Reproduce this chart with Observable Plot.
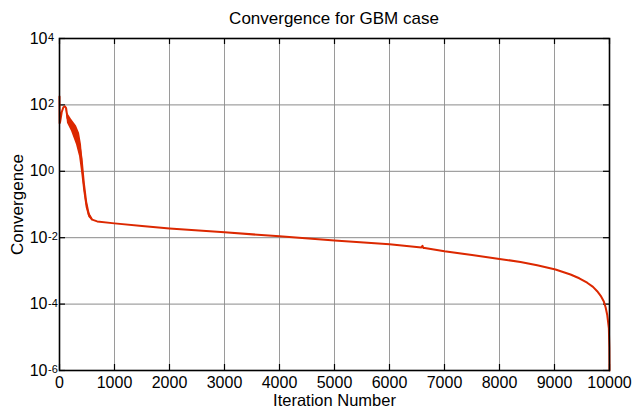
<!DOCTYPE html>
<html><head><meta charset="utf-8">
<script src="https://cdn.jsdelivr.net/npm/d3@7"></script>
<script src="https://cdn.jsdelivr.net/npm/@observablehq/plot@0.6"></script>
<style>
body{margin:0;background:#fff;font-family:"Liberation Sans",Arial,sans-serif;}
#title{width:636px;height:30px;box-sizing:border-box;padding-top:10px;padding-left:32px;line-height:17px;font-size:17px;text-align:center;color:#000;}
#chart svg{display:block;}
</style></head>
<body>
<div id="title">Convergence for GBM case</div>
<div id="chart"></div>
<script>
// Main convergence curve (iteration, value)
const iters = [0, 3, 10, 40, 70, 97, 120, 145, 218, 309, 364, 400, 442, 485, 533, 594, 685, 1000, 1500, 2000, 3000, 4000, 5000, 6000, 6580, 6600, 6615, 6640, 7000, 7500, 8000, 8382, 8685, 9018, 9291, 9450, 9594, 9700, 9776, 9840, 9897, 9930, 9958, 9988, 9997, 10000];
const values = [180, 28, 30, 60, 85, 91, 80, 40, 24, 12, 6, 2.5, 0.45, 0.12, 0.05, 0.035, 0.031, 0.027, 0.0224, 0.019, 0.0145, 0.011, 0.0083, 0.0063, 0.0051, 0.0057, 0.0049, 0.0049, 0.0039, 0.0030, 0.0023, 0.00186, 0.00148, 0.0011, 0.00078, 0.0006, 0.00044, 0.00033, 0.000245, 0.000178, 0.00012, 0.000079, 0.000048, 0.000019, 0.000005, 0.000001];
// Noisy band (oscillation envelope) in early iterations
const bandIters = [120, 145, 218, 309, 364, 400, 442, 485, 533, 594];
const bandLow  = [70, 28, 16, 6.3, 2.8, 1.0, 0.25, 0.08, 0.041, 0.032];
const bandHigh = [88, 57, 37, 23, 14, 6.3, 0.8, 0.18, 0.063, 0.039];
const xTicks = [0, 1000, 2000, 3000, 4000, 5000, 6000, 7000, 8000, 9000, 10000];
const yTicks = [1e-6, 1e-4, 1e-2, 1e0, 1e2, 1e4];
const yExp = ["-6", "-4", "-2", "0", "2", "4"];

const curve = iters.map((x, i) => ({x, y: values[i]}));
const band = bandIters.map((x, i) => ({x, lo: bandLow[i], hi: bandHigh[i]}));
const red = "#dc2800";

const plot = Plot.plot({
  width: 636, height: 381,
  marginTop: 8, marginBottom: 41, marginLeft: 59, marginRight: 27,
  style: {fontFamily: "'Liberation Sans', Arial, sans-serif", fontSize: "16px", color: "#000", background: "#fff"},
  x: {domain: [0, 10000], ticks: xTicks},
  y: {type: "log", domain: [1e-6, 1e4], ticks: yTicks},
  marks: [
    Plot.gridX(xTicks, {stroke: "#9a9a9a", strokeOpacity: 1, strokeWidth: 1}),
    Plot.gridY(yTicks, {stroke: "#8a8a8a", strokeOpacity: 1, strokeWidth: 1}),
    Plot.ruleX(xTicks, {insetTop: 326, stroke: "#000", strokeWidth: 1.2}),
    Plot.ruleX(xTicks, {insetBottom: 326, stroke: "#000", strokeWidth: 1.2}),
    Plot.ruleY(yTicks, {insetRight: 544, stroke: "#000", strokeWidth: 1.2}),
    Plot.ruleY(yTicks, {insetLeft: 544, stroke: "#000", strokeWidth: 1.2}),
    Plot.axisX(xTicks, {anchor: "bottom", tickSize: 0, tickPadding: 6, label: null, fontSize: 16, tickFormat: d => String(d)}),
    Plot.axisY(yTicks, {anchor: "left", tickSize: 0, tickPadding: 12, label: null, fontSize: 16, tickFormat: () => "10"}),
    Plot.areaY(band, {x: "x", y1: "lo", y2: "hi", fill: red, curve: "linear"}),
    Plot.line(curve, {x: "x", y: "y", stroke: red, strokeWidth: 2, curve: "linear"}),
    Plot.frame({stroke: "#000", strokeWidth: 1.6}),
    Plot.text(["Iteration Number"], {frameAnchor: "bottom", lineAnchor: "middle", textAnchor: "middle", dy: 30, fontSize: 16.5, fill: "#000"}),
    Plot.text(["Convergence"], {frameAnchor: "left", lineAnchor: "middle", textAnchor: "middle", dx: -42, rotate: -90, fontSize: 17, fill: "#000"})
  ]
});
document.getElementById("chart").appendChild(plot);

// add superscript exponents to y tick labels
const yLabels = plot.querySelectorAll('g[aria-label="y-axis tick label"] text');
yLabels.forEach((t, i) => {
  const e = t.cloneNode(false);
  e.textContent = yExp[i];
  e.setAttribute("text-anchor", "start");
  e.setAttribute("font-size", "11");
  e.setAttribute("dy", "-1");
  e.setAttribute("dx", "0.5");
  t.parentNode.appendChild(e);
});
</script>
</body></html>
